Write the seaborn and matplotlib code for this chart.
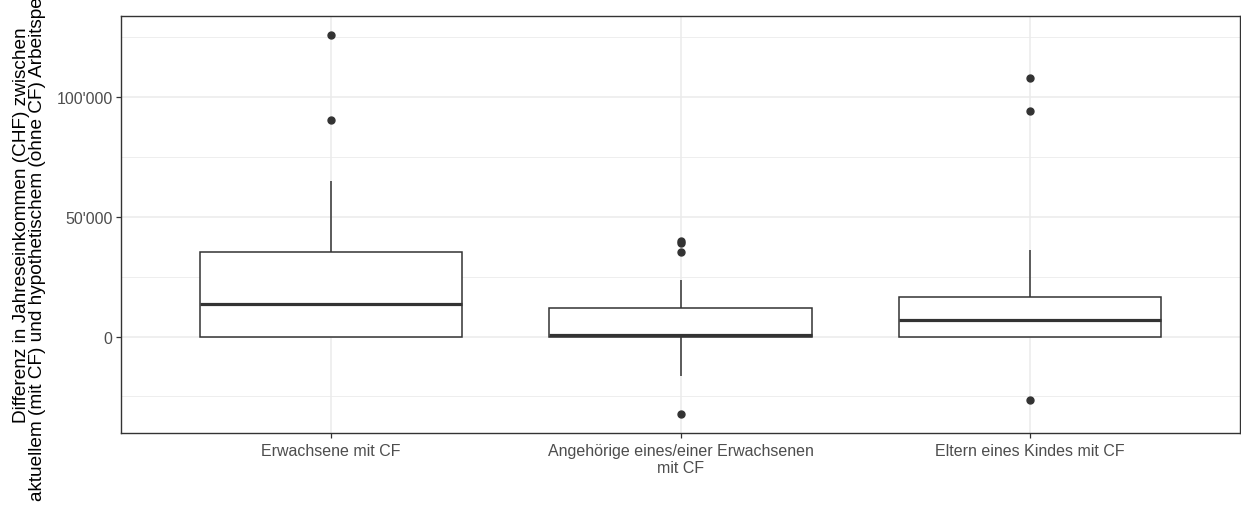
import numpy as np
import pandas as pd
import matplotlib
matplotlib.use("Agg")
import matplotlib.pyplot as plt
import matplotlib.ticker as mticker
import seaborn as sns

# ---- data ----
categories = ["Erwachsene mit CF",
              "Angehörige eines/einer Erwachsenen\nmit CF",
              "Eltern eines Kindes mit CF"]
erwachsene = [0, 0, 0, 0, 5000, 10000, 13500, 20000, 28000, 35400, 65000, 90400, 126000]
angehoerige = [-32400, -16400, -5000, -1000, 0, 0, 0, 200, 500, 3000, 6000, 9000,
               12000, 23750, 35500, 39200, 40000]
eltern = [-26700, 0, 0, 0, 2000, 5000, 6800, 10000, 14000, 16400, 36100, 94300, 107900]
y_major = [0, 50000, 100000]
y_minor = [-25000, 25000, 75000, 125000]
y_label = ("Differenz in Jahreseinkommen (CHF) zwischen\n"
           "aktuellem (mit CF) und hypothetischem (ohne CF) Arbeitspensum")

df = pd.DataFrame({
    "gruppe": [categories[0]] * len(erwachsene) + [categories[1]] * len(angehoerige)
              + [categories[2]] * len(eltern),
    "wert": erwachsene + angehoerige + eltern,
})

sns.set_theme(style="white")
plt.rcParams["font.family"] = ["Liberation Sans", "DejaVu Sans"]

fig = plt.figure(figsize=(12.41, 5.10), dpi=100)
ax = fig.add_axes([121 / 1241, 1 - 434 / 510, 1119 / 1241, (434 - 17) / 510])

dark = "#333333"
sns.boxplot(data=df, x="gruppe", y="wert", order=categories, ax=ax,
            color="white", linecolor=dark, linewidth=1.1, width=0.75, whis=1.5,
            showcaps=False,
            medianprops=dict(linewidth=2.3, color=dark),
            flierprops=dict(marker="o", markerfacecolor=dark, markeredgecolor=dark,
                            markersize=5))

for b in ax.patches:
    b.set_facecolor("white")
    b.set_zorder(2)
for ln in ax.lines:
    ln.set_zorder(3)

vals = np.array(df["wert"])
rng = vals.max() - vals.min()
ax.set_ylim(vals.min() - 0.05 * rng, vals.max() + 0.05 * rng)
ax.set_xlim(-0.6, 2.6)

ax.set_yticks(y_major)
ax.set_yticks(y_minor, minor=True)
ax.yaxis.set_major_formatter(mticker.FuncFormatter(lambda v, p: f"{int(v):,}".replace(",", "'")))

ax.set_axisbelow(True)
ax.grid(True, which="major", color="#EBEBEB", linewidth=1.1)
ax.grid(True, which="minor", axis="y", color="#EBEBEB", linewidth=0.6)

for s in ax.spines.values():
    s.set_visible(True)
    s.set_color(dark)
    s.set_linewidth(1.0)

ax.tick_params(axis="both", which="major", length=3.5, width=0.9, color=dark,
               labelsize=11.5, labelcolor="#4D4D4D", left=True, bottom=True)
ax.tick_params(axis="x", which="major", pad=4)
ax.tick_params(axis="y", which="major", pad=2.5)
ax.tick_params(axis="y", which="minor", length=0)
for t in ax.get_xticklabels():
    t.set_multialignment("center")
    t.set_linespacing(1.1)

ax.set_xlabel("")
ax.set_ylabel(y_label, fontsize=13.7, color="black", linespacing=0.9,
              multialignment="center")
ax.yaxis.set_label_coords((46 - 121) / 1119, 0.5)

fig.savefig("out.png", dpi=100, facecolor="white")
